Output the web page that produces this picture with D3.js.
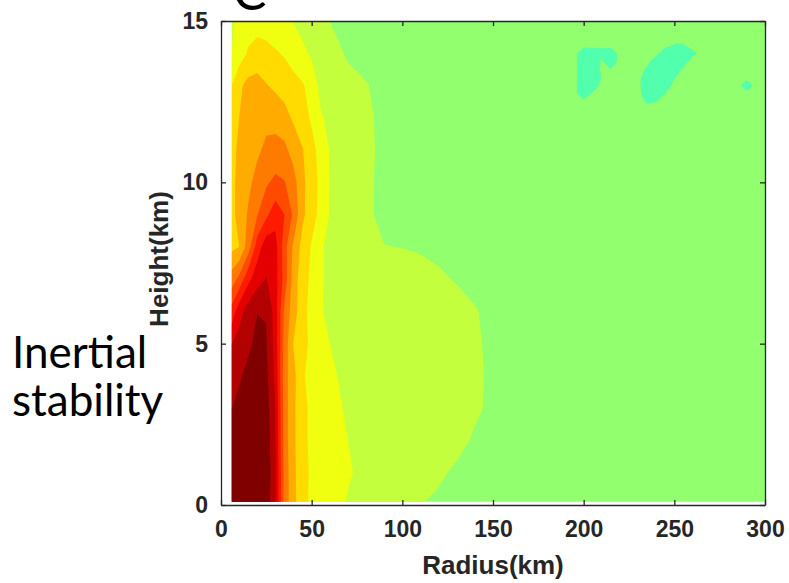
<!DOCTYPE html>
<html><head><meta charset="utf-8">
<script src="https://cdn.jsdelivr.net/npm/d3@7"></script>
<style>body{margin:0;background:#fff}svg{display:block}</style>
</head><body>
<script>
// ---- data ----
const radii   = [6,10,15,20,25,30,35,40,45,50,55,60,70,80,90,100,110,120,130,140,150,160,300];
const heights = [0.1,1,2,3,4,5,6,7,8,9,10,11,12,13,14,15];
// inertial stability (contour level units), one row per height
const row00 = [11.4,11.6,11.8,11.9,11.6,10.1,6.6,5.3,4.3,3.8,3.55,3.3,2.95,2.7,2.5,2.3,2.05,1.85,1.75,1.7,1.65,1.6,1.5];
const row01 = [11.4,11.6,11.8,11.9,11.7,10.2,6.6,5.25,4.3,3.85,3.65,3.45,3.06,2.85,2.75,2.6,2.4,2.15,1.85,1.75,1.7,1.6,1.5];
const row02 = [11.3,11.5,11.75,11.85,11.6,10.05,6.5,5.2,4.25,3.8,3.6,3.4,3.0,2.9,2.85,2.8,2.7,2.55,2.25,1.9,1.75,1.65,1.5];
const row03 = [11.0,11.3,11.6,11.75,11.45,10.0,6.5,5.2,4.25,3.8,3.55,3.25,2.9,2.9,2.85,2.8,2.75,2.65,2.45,2.12,1.85,1.7,1.5];
const row04 = [10.5,10.85,11.3,11.6,11.25,9.8,6.4,5.3,4.1,3.7,3.4,3.07,2.9,2.85,2.8,2.75,2.7,2.6,2.45,2.15,1.85,1.7,1.5];
const row05 = [10.0,10.4,10.8,11.25,11.05,9.6,6.6,4.95,4.35,3.75,3.3,3.0,2.85,2.8,2.75,2.7,2.65,2.55,2.4,2.1,1.85,1.7,1.5];
const row06 = [8.4,9.6,10.5,10.98,10.97,9.5,6.8,5.4,4.4,3.6,3.02,2.95,2.8,2.75,2.7,2.65,2.55,2.45,2.25,2.05,1.8,1.65,1.5];
const row07 = [6.5,7.3,8.7,9.6,10.05,9.4,7.6,5.5,4.4,3.8,3.05,2.9,2.75,2.65,2.55,2.45,2.35,2.1,1.95,1.8,1.65,1.55,1.5];
const row08 = [4.75,5.0,6.5,8.5,9.6,9.4,7.4,5.8,4.65,3.9,3.05,2.9,2.6,2.3,2.02,1.98,1.9,1.85,1.75,1.65,1.6,1.55,1.5];
const row09 = [4.7,5.4,6.1,6.95,7.8,8.6,8.0,6.8,5.2,4.4,3.7,2.95,2.6,2.15,1.8,1.6,1.5,1.5,1.5,1.5,1.5,1.5,1.5];
const row10 = [4.75,5.3,5.8,6.3,6.85,7.25,7.05,6.4,5.2,4.5,3.75,2.95,2.6,2.15,1.8,1.6,1.5,1.5,1.5,1.5,1.5,1.5,1.5];
const row11 = [4.7,5.2,5.5,5.85,6.2,6.3,6.25,5.6,5.05,4.35,3.6,2.95,2.6,2.2,1.8,1.6,1.5,1.5,1.5,1.5,1.5,1.5,1.5];
const row12 = [4.6,5.0,5.5,5.75,5.75,5.7,5.35,4.85,4.4,3.85,3.1,2.8,2.5,2.15,1.8,1.6,1.5,1.5,1.5,1.5,1.5,1.5,1.5];
const row13 = [4.0,4.8,5.3,5.45,5.05,4.8,4.6,4.35,4.1,3.6,2.7,2.6,2.25,2.05,1.75,1.6,1.5,1.5,1.5,1.5,1.5,1.5,1.5];
const row14 = [3.0,3.5,4.1,4.3,4.25,4.1,3.9,3.55,3.2,2.85,2.6,2.35,1.9,1.7,1.6,1.5,1.5,1.5,1.5,1.5,1.5,1.5,1.5];
const row15 = [2.9,3.3,3.6,3.7,3.6,3.4,3.2,2.95,2.7,2.5,2.25,2.0,1.8,1.6,1.5,1.5,1.5,1.5,1.5,1.5,1.5,1.5,1.5];
const field = [row00,row01,row02,row03,row04,row05,row06,row07,row08,row09,row10,row11,row12,row13,row14,row15];

// upper-right weak patches (below level 1); background value 1.5 elsewhere
const patchRadii   = [185,190,195,200,205,210,215,220,225,230,235,240,245,250,255,260,265,270,275,280,285,290,295,300];
const patchHeights = [11.5,11.75,12,12.25,12.5,12.75,13,13.25,13.5,13.75,14,14.25,14.5,14.75,15];
const patchBackground = 1.5;
const patchLows = [
  [200,12.75,-0.3],[200,13,-0.5],[200,13.25,-0.5],[200,13.5,-0.5],[200,13.75,-0.5],[200,14,-0.3],
  [205,12.75,1.2],[205,13,0],[205,13.25,-0.5],[205,13.5,-0.3],[205,13.75,-0.3],[205,14,0],
  [210,13.25,1.1],[210,13.5,1.3],[210,13.75,1.2],[210,14,0.2],
  [215,13.5,1.0],[215,13.75,0],[215,14,0],
  [235,12.5,0.8],[235,12.75,0],[235,13,-0.3],[235,13.25,0],[235,13.5,0.8],
  [240,12.5,1.0],[240,12.75,0],[240,13,-0.5],[240,13.25,-0.5],[240,13.5,-0.3],[240,13.75,0],
  [245,12.75,1.0],[245,13,0],[245,13.25,-0.5],[245,13.5,-0.5],[245,13.75,-0.5],[245,14,0],
  [250,13.25,0.9],[250,13.5,0],[250,13.75,-0.5],[250,14,-0.5],[250,14.25,0.9],
  [255,13.5,1.3],[255,13.75,0.3],[255,14,-0.3],[255,14.25,0.9],
  [260,14,0.6],
  [290,13,0]
];

const levels      = [1,2,3,4,5,6,7,8,9,10,11];
const levelColors = ["#91ff6e","#c3ff3d","#f0ff0f","#ffdb00","#ffab00","#ff7b00","#ff4b00","#ff1b00","#e50000","#b30000","#800000"];
const lowColor    = "#52ffac";
const xTicks = [0,50,100,150,200,250,300];
const yTicks = [0,5,10,15];

// ---- drawing ----
const W = 789, H = 583;
const svg = d3.select("body").append("svg").attr("width", W).attr("height", H);
const x = d3.scaleLinear().domain([0,300]).range([221,765]);
const y = d3.scaleLinear().domain([0,15]).range([505,21]);

function drawField(g, R, Z, rows, thresholds, colors, invert) {
  const n = R.length, m = Z.length;
  const flat = [];
  for (let j = 0; j < m; j++) for (let i = 0; i < n; i++) flat.push(invert ? -rows[j][i] : rows[j][i]);
  const ci = d3.scaleLinear().domain(R.map((_, i) => i + 0.5)).range(R).clamp(true);
  const cj = d3.scaleLinear().domain(Z.map((_, j) => j + 0.5)).range(Z).clamp(true);
  const proj = d3.geoTransform({point(px, py) { this.stream.point(x(ci(px)), y(cj(py))); }});
  const path = d3.geoPath(proj);
  const cs = d3.contours().size([n, m]).thresholds(thresholds)(flat);
  g.selectAll(null).data(cs).join("path")
    .attr("d", path).attr("fill", (d, k) => colors[k]).attr("stroke", "none");
}

const gField = svg.append("g");
drawField(gField, radii, heights, field, levels, levelColors, false);

// patch grid
const patchRows = patchHeights.map(z => patchRadii.map(r => {
  const p = patchLows.find(q => q[0] === r && q[1] === z);
  return p ? p[2] : patchBackground;
}));
drawField(gField, patchRadii, patchHeights, patchRows, [-1], [lowColor], true);

// axes (MATLAB style box, inward ticks)
const axisColor = "#262626";
const fontTick = "bold 23px 'Liberation Sans', Arial, sans-serif";
const fontTitle = "bold 26px 'Liberation Sans', Arial, sans-serif";
const gx = svg.append("g").attr("transform", "translate(0,505)")
  .call(d3.axisBottom(x).tickValues(xTicks).tickSizeInner(-5).tickSizeOuter(0).tickPadding(16));
const gy = svg.append("g").attr("transform", "translate(221,0)")
  .call(d3.axisLeft(y).tickValues(yTicks).tickSizeInner(-5).tickSizeOuter(0).tickPadding(13));
const gt = svg.append("g").attr("transform", "translate(0,21)")
  .call(d3.axisTop(x).tickValues(xTicks).tickSizeInner(-5).tickSizeOuter(0).tickFormat(""));
const gr = svg.append("g").attr("transform", "translate(765,0)")
  .call(d3.axisRight(y).tickValues(yTicks).tickSizeInner(-5).tickSizeOuter(0).tickFormat(""));
[gx, gy, gt, gr].forEach(g => {
  g.selectAll("path.domain").attr("stroke", axisColor).attr("stroke-width", 1.3);
  g.selectAll(".tick line").attr("stroke", axisColor).attr("stroke-width", 1.3);
  g.selectAll(".tick text").attr("fill", axisColor).style("font", fontTick);
});

// axis titles
svg.append("text").attr("x", 493).attr("y", 574).attr("text-anchor", "middle")
  .attr("fill", axisColor).style("font", fontTitle).text("Radius(km)");
svg.append("text").attr("transform", "translate(168,259) rotate(-90)").attr("text-anchor", "middle")
  .attr("fill", axisColor).style("font", fontTitle).text("Height(km)");

// panel annotations
const fontBig = "44px Lato, 'Open Sans', sans-serif";
svg.append("text").attr("x", 12).attr("y", 368).style("font", fontBig).attr("fill", "#000").text("Inertial");
svg.append("text").attr("x", 12).attr("y", 416).style("font", fontBig).attr("fill", "#000").text("stability");
svg.append("text").attr("x", 233).attr("y", 10).style("font", "50px Lato, 'Open Sans', sans-serif").attr("fill", "#000").text("C");
</script>
</body></html>
